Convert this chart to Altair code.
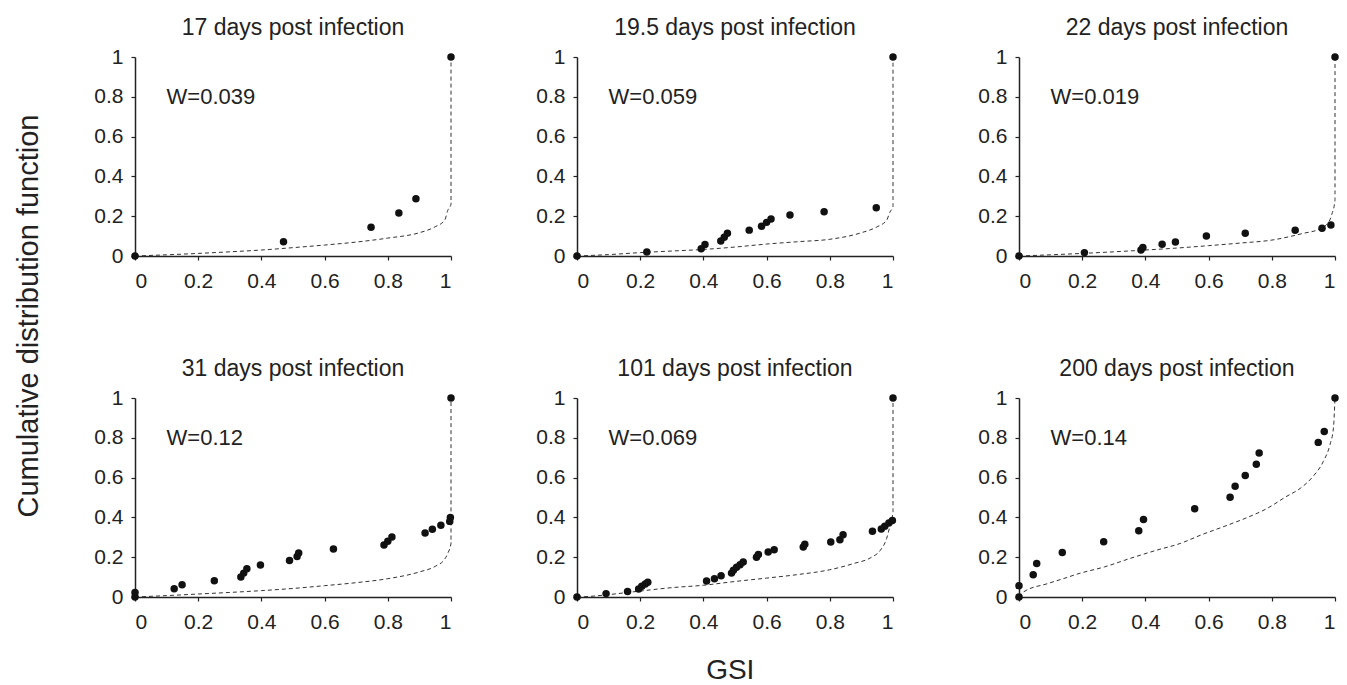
import altair as alt
import pandas as pd

FONT = "Liberation Sans"

titles = ["17 days post infection", "19.5 days post infection", "22 days post infection",
          "31 days post infection", "101 days post infection", "200 days post infection"]
w_labels = ["W=0.039", "W=0.059", "W=0.019", "W=0.12", "W=0.069", "W=0.14"]

# observed points (GSI, cumulative fraction)
pts_x = [
    [0, 0.47, 0.747, 0.835, 0.889, 1.0],
    [0, 0.221, 0.393, 0.405, 0.455, 0.466, 0.476, 0.545, 0.584, 0.600, 0.614, 0.674, 0.782, 0.947, 1.0],
    [0, 0.207, 0.386, 0.392, 0.453, 0.495, 0.593, 0.716, 0.874, 0.959, 0.987, 1.0],
    [0, 0, 0.124, 0.149, 0.251, 0.335, 0.344, 0.354, 0.397, 0.489, 0.513, 0.518, 0.628, 0.788, 0.800,
     0.813, 0.918, 0.941, 0.968, 0.996, 0.998, 1.0],
    [0, 0.092, 0.160, 0.195, 0.205, 0.216, 0.224, 0.410, 0.435, 0.456, 0.489, 0.495, 0.505, 0.516, 0.526,
     0.568, 0.574, 0.605, 0.624, 0.716, 0.721, 0.803, 0.832, 0.842, 0.935, 0.963, 0.974, 0.987, 0.998, 1.0],
    [0, 0, 0.045, 0.056, 0.137, 0.268, 0.379, 0.394, 0.556, 0.668, 0.684, 0.716, 0.751, 0.760, 0.947, 0.966, 1.0],
]
pts_y = [
    [0, 0.072, 0.144, 0.216, 0.288, 1.0],
    [0, 0.020, 0.037, 0.058, 0.075, 0.094, 0.114, 0.130, 0.150, 0.169, 0.186, 0.206, 0.222, 0.242, 1.0],
    [0, 0.017, 0.030, 0.043, 0.059, 0.070, 0.100, 0.114, 0.129, 0.140, 0.156, 1.0],
    [0, 0.023, 0.042, 0.062, 0.082, 0.100, 0.120, 0.142, 0.161, 0.183, 0.203, 0.221, 0.241, 0.261, 0.280,
     0.302, 0.322, 0.340, 0.360, 0.380, 0.400, 1.0],
    [0, 0.017, 0.028, 0.040, 0.054, 0.065, 0.074, 0.080, 0.092, 0.107, 0.120, 0.134, 0.149, 0.162, 0.176,
     0.200, 0.213, 0.226, 0.238, 0.251, 0.265, 0.276, 0.288, 0.313, 0.330, 0.342, 0.355, 0.372, 0.384, 1.0],
    [0, 0.057, 0.112, 0.168, 0.224, 0.278, 0.333, 0.389, 0.444, 0.501, 0.556, 0.611, 0.667, 0.724, 0.777, 0.832, 1.0],
]

# fitted CDF curves (dashed)
curve_x = [
    [0, 0.1, 0.2, 0.3, 0.4, 0.5, 0.6, 0.7, 0.8, 0.9, 0.95, 0.98, 0.99, 1.0, 1.0],
    [0, 0.1, 0.2, 0.3, 0.4, 0.5, 0.6, 0.7, 0.8, 0.9, 0.95, 0.98, 0.99, 1.0, 1.0],
    [0, 0.1, 0.2, 0.3, 0.4, 0.5, 0.6, 0.7, 0.8, 0.9, 0.95, 0.98, 0.99, 1.0, 1.0],
    [0, 0.1, 0.2, 0.3, 0.4, 0.5, 0.6, 0.7, 0.8, 0.9, 0.95, 0.98, 0.99, 1.0, 1.0],
    [0, 0.04, 0.1, 0.2, 0.3, 0.4, 0.5, 0.6, 0.7, 0.8, 0.875, 0.93, 0.96, 0.98, 0.99, 1.0, 1.0],
    [0, 0.014, 0.09, 0.14, 0.19, 0.27, 0.35, 0.435, 0.51, 0.575, 0.655, 0.72, 0.785, 0.845, 0.89, 0.93,
     0.963, 0.984, 0.995, 1.0],
]
curve_y = [
    [0, 0.006, 0.013, 0.021, 0.030, 0.042, 0.055, 0.070, 0.090, 0.117, 0.147, 0.180, 0.230, 0.260, 1.0],
    [0, 0.007, 0.017, 0.025, 0.033, 0.045, 0.060, 0.072, 0.084, 0.117, 0.147, 0.180, 0.220, 0.250, 1.0],
    [0, 0.006, 0.013, 0.021, 0.030, 0.040, 0.052, 0.065, 0.080, 0.114, 0.135, 0.170, 0.210, 0.280, 1.0],
    [0, 0.007, 0.015, 0.023, 0.032, 0.043, 0.057, 0.072, 0.092, 0.126, 0.154, 0.190, 0.220, 0.270, 1.0],
    [0, 0.003, 0.012, 0.030, 0.047, 0.059, 0.078, 0.095, 0.113, 0.137, 0.168, 0.198, 0.235, 0.295, 0.355, 0.430, 1.0],
    [0, 0.025, 0.067, 0.092, 0.118, 0.151, 0.193, 0.235, 0.269, 0.311, 0.358, 0.398, 0.445, 0.504, 0.546, 0.605,
     0.681, 0.765, 0.849, 1.0],
]

tick_vals = [0, 0.2, 0.4, 0.6, 0.8, 1.0]
W, H = 316, 199


def panel(i):
    pts = pd.DataFrame({"x": pts_x[i], "y": pts_y[i]})
    cur = pd.DataFrame({"x": curve_x[i], "y": curve_y[i], "o": list(range(len(curve_x[i])))})
    lab = pd.DataFrame({"x": [0.1], "y": [0.8], "t": [w_labels[i]]})
    xs = alt.X("x:Q", scale=alt.Scale(domain=[0, 1], nice=False),
               axis=alt.Axis(values=tick_vals, format="~g", title=None))
    ys = alt.Y("y:Q", scale=alt.Scale(domain=[0, 1], nice=False),
               axis=alt.Axis(values=tick_vals, format="~g", title=None))
    line = alt.Chart(cur).mark_line(strokeDash=[4, 3], strokeWidth=1, color="#333",
                                    interpolate="monotone").encode(x=xs, y=ys, order="o:Q")
    dots = alt.Chart(pts).mark_circle(size=56, color="#111", opacity=1).encode(x=xs, y=ys)
    txt = alt.Chart(lab).mark_text(align="left", baseline="middle", fontSize=22, font=FONT,
                                   color="#222").encode(x=xs, y=ys, text="t:N")
    return alt.layer(line, dots, txt).properties(
        width=W, height=H,
        title=alt.TitleParams(titles[i], fontSize=23, font=FONT, fontWeight="normal", color="#222",
                              baseline="alphabetic", offset=-12, frame="group", anchor="middle"))


row1 = alt.hconcat(panel(0), panel(1), panel(2), spacing=80)
row2 = alt.hconcat(panel(3), panel(4), panel(5), spacing=80)
grid = alt.vconcat(row1, row2, spacing=67,
                   title=alt.TitleParams("GSI", orient="bottom", anchor="middle", fontSize=28, font=FONT,
                                         fontWeight="normal", color="#222", offset=25, dx=14))
chart = alt.hconcat(grid, title=alt.TitleParams("Cumulative distribution function", orient="left",
                                                anchor="middle", fontSize=29, font=FONT,
                                                fontWeight="normal", color="#222", offset=50, dx=35))
chart = chart.properties(padding={"left": 14, "top": 17, "right": 2, "bottom": 0}).configure_view(
    stroke=None).configure_axis(
    grid=False, domainColor="#222", domainWidth=1.5, tickColor="#222", tickSize=4, tickWidth=1.2,
    labelFont=FONT, labelFontSize=21, labelColor="#222").configure_axisX(labelPadding=10).configure_axisY(
    labelPadding=8)

chart.save("out.html", embed_options={"renderer": "svg", "actions": False})
